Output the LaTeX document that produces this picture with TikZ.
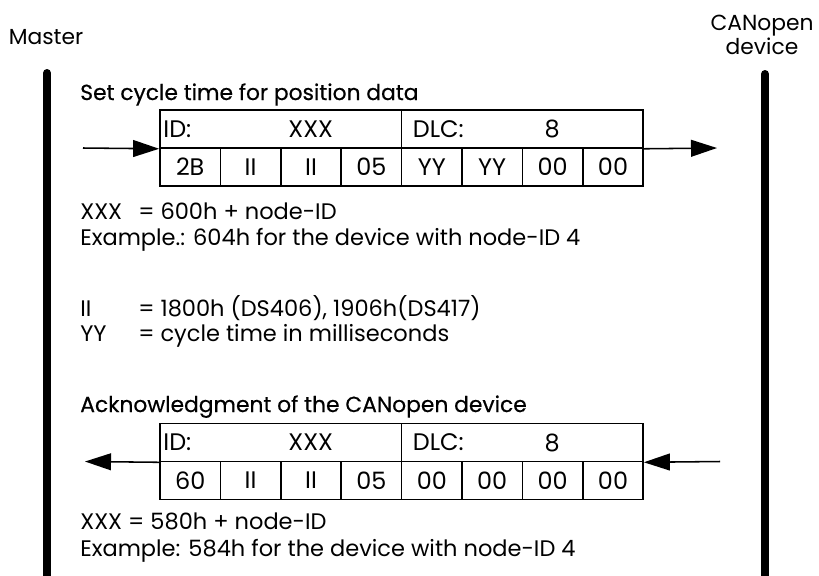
\documentclass[tikz,border=0pt]{standalone}
\usepackage{fontspec}
\setmainfont{Poppins}
\newfontfamily\headfamily{Poppins}[FakeBold=0.5]
\usetikzlibrary{positioning,calc,arrows.meta}

\newcommand\bodyfont{\fontsize{16}{19}\selectfont}
\newcommand\headfont{\headfamily\fontsize{15.5}{19}\selectfont}
\newcommand\cellfont{\fontsize{17}{20}\selectfont}
\newcommand\partfont{\fontsize{15.5}{17}\selectfont}

\tikzset{
  cell/.style={draw,line width=1.1pt,minimum width=1.51cm,minimum height=0.95cm,inner sep=0pt,font=\cellfont},
  widecell/.style={cell,minimum width=6.04cm},
  msg/.style={line width=1.1pt,-{Triangle[length=0.65cm,width=0.42cm]}},
  lifeline/.style={line width=0.2cm,line cap=round},
  txt/.style={anchor=base west,inner sep=0pt,font=\bodyfont},
  celltxt/.style={inner sep=0pt,font=\cellfont}
}

\begin{document}
\begin{tikzpicture}[x=0.025cm,y=-0.025cm]
\useasboundingbox (0,0) rectangle (819,575);

% participants
\node[font=\partfont] (master) at (46,37) {Master};
\node[font=\partfont,align=center] (device) at (762,35) {CANopen\\device};
\coordinate (mtop) at (47,73);
\coordinate (mbot) at (47,600);
\coordinate (dtop) at (765,74);
\coordinate (dbot) at (765,600);
\draw[lifeline] (mtop) -- (mbot);
\draw[lifeline] (dtop) -- (dbot);

% request
\node[txt,font=\headfont] (title1) at (80,100) {Set cycle time for position data};
\node[widecell] (aid) at (280.75,129) {};
\node[widecell] (adlc) at (522.25,129) {};
\foreach \t [count=\i] in {2B,II,II,05,YY,YY,00,00}
  \node[cell] (a\i) at ({129.8+60.4*\i},167) {\t};
\node[celltxt,anchor=west] at ($(aid.west)+(4,0)$) {ID:};
\node[celltxt] at ($(aid.center)+(30,0)$) {XXX};
\node[celltxt,anchor=west] at ($(adlc.west)+(12,0)$) {DLC:};
\node[celltxt] at ($(adlc.center)+(30,0)$) {8};
\coordinate (ain) at (83,148);
\coordinate (aout) at (717,148);
\draw[msg] (ain) -- (aid.south west);
\draw[msg] (adlc.south east) -- (aout);

\node[txt] (xa) at (80,219) {XXX};
\node[txt] (xaeq) at (138,219) {= 600h + node-ID};
\node[txt] (exa) at (80,245) {Example.: 604h for the device with node-ID 4};
\node[txt] (ii) at (80,316) {II};
\node[txt] (iieq) at (138,316) {= 1800h (DS406), 1906h(DS417)};
\node[txt] (yy) at (80,341) {YY};
\node[txt] (yyeq) at (138,341) {= cycle time in milliseconds};

% acknowledgment
\node[txt,font=\headfont] (title2) at (80,412) {Acknowledgment of the CANopen device};
\node[widecell] (bid) at (280.75,442.5) {};
\node[widecell] (bdlc) at (522.25,442.5) {};
\foreach \t [count=\i] in {60,II,II,05,00,00,00,00}
  \node[cell] (b\i) at ({129.8+60.4*\i},480.5) {\t};
\node[celltxt,anchor=west] at ($(bid.west)+(4,0)$) {ID:};
\node[celltxt] at ($(bid.center)+(30,0)$) {XXX};
\node[celltxt,anchor=west] at ($(bdlc.west)+(12,0)$) {DLC:};
\node[celltxt] at ($(bdlc.center)+(30,0)$) {8};
\coordinate (bin) at (720,461.5);
\coordinate (bout) at (85,461.5);
\draw[msg] (bid.south west) -- (bout);
\draw[msg] (bin) -- (bdlc.south east);

\node[txt] (xb) at (80,529) {XXX = 580h + node-ID};
\node[txt] (exb) at (80,556) {Example: 584h for the device with node-ID 4};
\end{tikzpicture}
\end{document}
